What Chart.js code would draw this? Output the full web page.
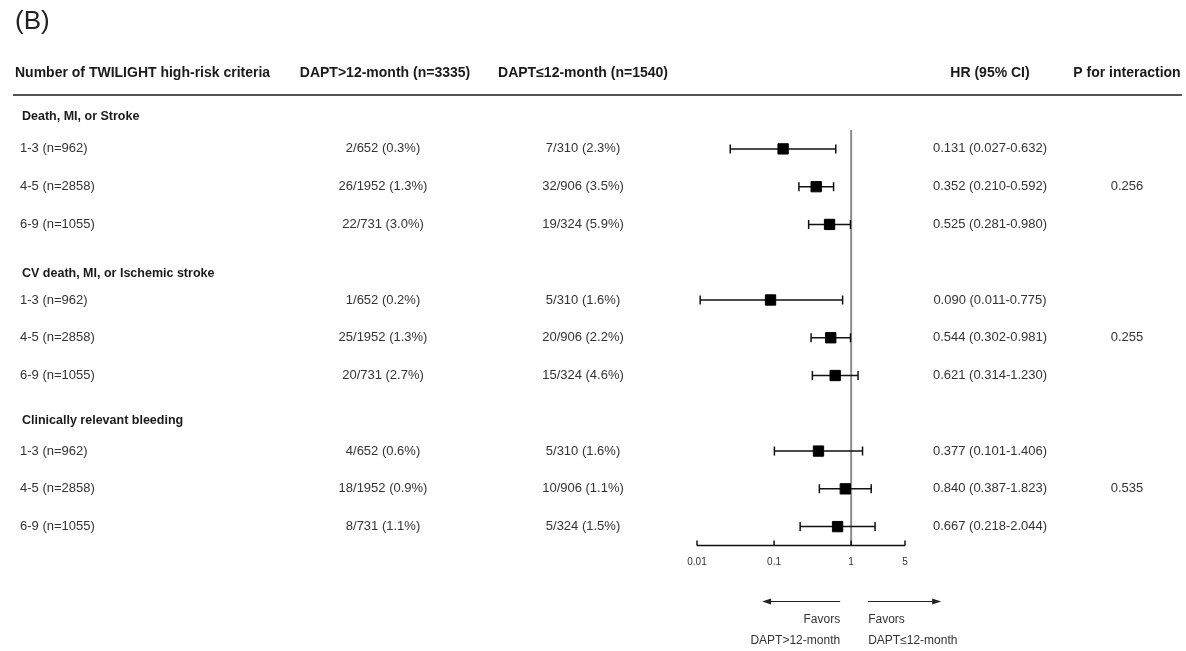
<!DOCTYPE html>
<html>
<head>
<meta charset="utf-8">
<script src="https://cdn.jsdelivr.net/npm/chart.js@4.4.1/dist/chart.umd.min.js"></script>
<style>
  html, body { margin: 0; padding: 0; background: #fff; }
  canvas { display: block; }
</style>
</head>
<body>
<canvas id="forest" width="1186" height="651"></canvas>
<script>
const outcomes = ['Death, MI, or Stroke', 'CV death, MI, or Ischemic stroke', 'Clinically relevant bleeding'];
const strata = ['1-3 (n=962)', '4-5 (n=2858)', '6-9 (n=1055)'];
const daptLong = ['2/652 (0.3%)', '26/1952 (1.3%)', '22/731 (3.0%)',
                  '1/652 (0.2%)', '25/1952 (1.3%)', '20/731 (2.7%)',
                  '4/652 (0.6%)', '18/1952 (0.9%)', '8/731 (1.1%)'];
const daptShort = ['7/310 (2.3%)', '32/906 (3.5%)', '19/324 (5.9%)',
                   '5/310 (1.6%)', '20/906 (2.2%)', '15/324 (4.6%)',
                   '5/310 (1.6%)', '10/906 (1.1%)', '5/324 (1.5%)'];
const hr = [0.131, 0.352, 0.525, 0.090, 0.544, 0.621, 0.377, 0.840, 0.667];
const ciLow = [0.027, 0.210, 0.281, 0.011, 0.302, 0.314, 0.101, 0.387, 0.218];
const ciHigh = [0.632, 0.592, 0.980, 0.775, 0.981, 1.230, 1.406, 1.823, 2.044];
const pInteraction = ['0.256', '0.255', '0.535'];
const xTicks = [0.01, 0.1, 1, 5];
const columnHeads = ['Number of TWILIGHT high-risk criteria', 'DAPT>12-month (n=3335)', 'DAPT\u226412-month (n=1540)', 'HR (95% CI)', 'P for interaction'];

// row index on the y scale: each outcome takes a header row + 3 strata rows
const rowOf = k => Math.floor(k / 3) * 4 + (k % 3) + 1;
const points = hr.map((v, k) => ({ x: v, y: rowOf(k) }));

const fmt = v => v.toFixed(3);

const FONT = '"Liberation Sans", Arial, sans-serif';
const colX = { label: 20, long: 383, short: 583, hr: 990, p: 1127 };

const forestPlugin = {
  id: 'forest',
  beforeDatasetsDraw(chart) {
    const { ctx, chartArea, scales: { x, y } } = chart;
    ctx.save();
    // reference line at HR = 1
    const x1 = x.getPixelForValue(1);
    ctx.strokeStyle = '#8c8c8c';
    ctx.lineWidth = 2;
    ctx.beginPath();
    ctx.moveTo(x1, chartArea.top);
    ctx.lineTo(x1, chartArea.bottom);
    ctx.stroke();

    // confidence intervals
    ctx.strokeStyle = '#111';
    ctx.lineWidth = 1.5;
    hr.forEach((v, k) => {
      const py = y.getPixelForValue(rowOf(k));
      const a = x.getPixelForValue(ciLow[k]);
      const b = x.getPixelForValue(ciHigh[k]);
      ctx.beginPath();
      ctx.moveTo(a, py); ctx.lineTo(b, py);
      ctx.moveTo(a, py - 4.5); ctx.lineTo(a, py + 4.5);
      ctx.moveTo(b, py - 4.5); ctx.lineTo(b, py + 4.5);
      ctx.stroke();
    });
    ctx.restore();
  },
  afterDraw(chart) {
    const { ctx, chartArea, scales: { x, y } } = chart;
    ctx.save();
    ctx.textBaseline = 'middle';

    // panel letter
    ctx.fillStyle = '#222';
    ctx.font = '26px ' + FONT;
    ctx.textAlign = 'left';
    ctx.fillText('(B)', 15, 22);

    // column headings
    const headY = 73;
    ctx.font = 'bold 14px ' + FONT;
    ctx.fillStyle = '#1a1a1a';
    ctx.textAlign = 'left';
    ctx.fillText(columnHeads[0], 15, headY);
    ctx.textAlign = 'center';
    ctx.fillText(columnHeads[1], colX.long + 2, headY);
    ctx.fillText(columnHeads[2], colX.short, headY);
    ctx.fillText(columnHeads[3], colX.hr, headY);
    ctx.fillText(columnHeads[4], colX.p, headY);

    ctx.strokeStyle = '#555';
    ctx.lineWidth = 2;
    ctx.beginPath();
    ctx.moveTo(13, 95);
    ctx.lineTo(1182, 95);
    ctx.stroke();

    // outcome headings
    const headOffset = [-32, -26, -31];
    outcomes.forEach((name, g) => {
      const py = y.getPixelForValue(g * 4 + 1) + headOffset[g];
      ctx.font = 'bold 12.5px ' + FONT;
      ctx.fillStyle = '#1a1a1a';
      ctx.textAlign = 'left';
      ctx.fillText(name, 22, py);
      ctx.font = '13px ' + FONT;
      ctx.fillStyle = '#333';
      ctx.textAlign = 'center';
      ctx.fillText(pInteraction[g], colX.p, y.getPixelForValue(g * 4 + 2));
    });

    // strata rows
    ctx.font = '13px ' + FONT;
    ctx.fillStyle = '#333';
    hr.forEach((v, k) => {
      const py = y.getPixelForValue(rowOf(k));
      ctx.textAlign = 'left';
      ctx.fillText(strata[k % 3], colX.label, py);
      ctx.textAlign = 'center';
      ctx.fillText(daptLong[k], colX.long, py);
      ctx.fillText(daptShort[k], colX.short, py);
      ctx.fillText(fmt(v) + ' (' + fmt(ciLow[k]) + '-' + fmt(ciHigh[k]) + ')', colX.hr, py);
    });

    // x axis with upward ticks
    const ay = chartArea.bottom;
    const x0 = x.getPixelForValue(xTicks[0]);
    const xN = x.getPixelForValue(xTicks[xTicks.length - 1]);
    ctx.strokeStyle = '#111';
    ctx.lineWidth = 1.5;
    ctx.beginPath();
    ctx.moveTo(x0, ay); ctx.lineTo(xN, ay);
    xTicks.forEach(t => {
      const px = x.getPixelForValue(t);
      ctx.moveTo(px, ay); ctx.lineTo(px, ay - 5);
    });
    ctx.stroke();
    ctx.font = '10px ' + FONT;
    ctx.fillStyle = '#333';
    ctx.textAlign = 'center';
    xTicks.forEach(t => ctx.fillText(String(t), x.getPixelForValue(t), ay + 17));

    // favors arrows
    const x1 = x.getPixelForValue(1);
    const arrowY = ay + 56;
    const drawArrow = (from, to) => {
      ctx.beginPath();
      ctx.moveTo(from, arrowY); ctx.lineTo(to, arrowY);
      ctx.stroke();
      const dir = Math.sign(to - from);
      ctx.beginPath();
      ctx.moveTo(to + dir * 2, arrowY);
      ctx.lineTo(to - dir * 7, arrowY - 3);
      ctx.lineTo(to - dir * 7, arrowY + 3);
      ctx.closePath();
      ctx.fill();
    };
    ctx.strokeStyle = '#222';
    ctx.fillStyle = '#222';
    ctx.lineWidth = 1.2;
    drawArrow(x1 - 11, x1 - 87);
    drawArrow(x1 + 17, x1 + 88);

    ctx.font = '12px ' + FONT;
    ctx.fillStyle = '#333';
    ctx.textAlign = 'right';
    ctx.fillText('Favors', x1 - 11, ay + 74);
    ctx.fillText('DAPT>12-month', x1 - 11, ay + 95);
    ctx.textAlign = 'left';
    ctx.fillText('Favors', x1 + 17, ay + 74);
    ctx.fillText('DAPT\u226412-month', x1 + 17, ay + 95);
    ctx.restore();
  }
};

const config = {
  type: 'scatter',
  data: {
    datasets: [{
      label: 'HR',
      data: points,
      pointStyle: 'rect',
      pointRadius: 7.3,
      pointBorderWidth: 1,
      backgroundColor: '#000',
      borderColor: '#000'
    }]
  },
  options: {
    responsive: false,
    animation: false,
    devicePixelRatio: 1,
    layout: {
      padding: { left: 697, right: 281, top: 130, bottom: 105.5 }
    },
    plugins: {
      legend: { display: false },
      tooltip: { enabled: false }
    },
    scales: {
      x: { type: 'logarithmic', min: 0.01, max: 5, display: false },
      y: { type: 'linear', min: 0.5, max: 11.5, reverse: true, display: false }
    }
  },
  plugins: [forestPlugin]
};

new Chart(document.getElementById('forest'), config);
</script>
</body>
</html>
